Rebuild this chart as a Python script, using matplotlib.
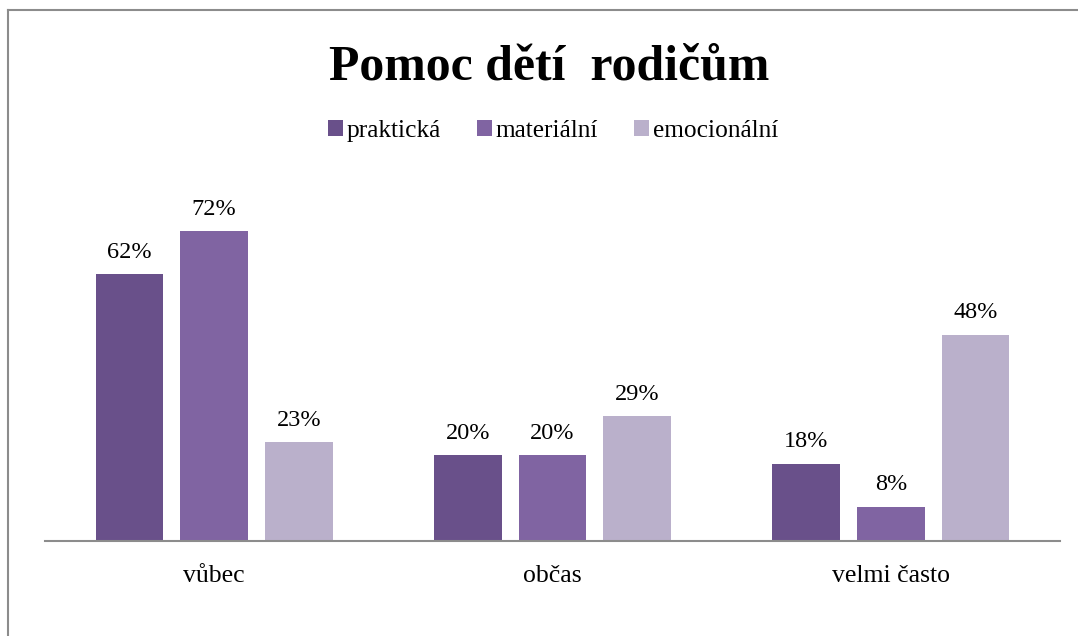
import matplotlib
matplotlib.use("Agg")
import matplotlib.pyplot as plt
import numpy as np
from matplotlib.lines import Line2D

categories = ["vůbec", "občas", "velmi často"]
series_names = ["praktická", "materiální", "emocionální"]
praktika = [62, 20, 18]
materialni = [72, 20, 8]
emocionalni = [23, 29, 48]
labels = ["62%", "20%", "18%"], ["72%", "20%", "8%"], ["23%", "29%", "48%"]
colors = ["#69508A", "#8064A2", "#BAB0CB"]

plt.rcParams['font.family'] = ['Liberation Serif', 'DejaVu Serif']

fig = plt.figure(figsize=(10.78, 6.36), dpi=100)
ax = fig.add_axes([45/1078, 1-541/636, (1060-45)/1078, 344/636])

x = np.arange(len(categories))
w = 0.2
step = 0.25
data = [praktika, materialni, emocionalni]
for i, (vals, name, col, labs) in enumerate(zip(data, series_names, colors, labels)):
    bars = ax.bar(x + (i-1)*step, vals, width=w, color=col, label=name, zorder=2)
    for b, lab in zip(bars, labs):
        ax.annotate(lab, (b.get_x()+b.get_width()/2, b.get_height()),
                    xytext=(0, 8), textcoords='offset points',
                    ha='center', va='bottom', fontsize=17.5)

ax.set_xlim(-0.5, 2.5)
ax.set_ylim(0, 80)
for s in ['top', 'right', 'left']:
    ax.spines[s].set_visible(False)
ax.spines['bottom'].set_color('#8C8C8C')
ax.spines['bottom'].set_linewidth(1.5)
ax.set_yticks([])
ax.set_xticks(x)
ax.set_xticklabels(categories, fontsize=18.5)
ax.tick_params(axis='x', length=0, pad=17)

fig.text(549/1078, 1-68/636, "Pomoc dětí  rodičům", ha='center', va='center',
         fontsize=35.8, fontweight='bold')

leg = fig.legend(loc='center', bbox_to_anchor=(553/1078, 1-131/636), ncol=3,
                 frameon=False, fontsize=18.3, handlelength=0.6, handleheight=0.6,
                 handletextpad=0.15, columnspacing=1.4)

# outer border (top and left visible)
fig.add_artist(Line2D([8/1078, 1], [1-10/636, 1-10/636], transform=fig.transFigure,
                      color='#8C8C8C', lw=1.5))
fig.add_artist(Line2D([8/1078, 8/1078], [0, 1-10/636], transform=fig.transFigure,
                      color='#8C8C8C', lw=1.5))

fig.savefig("out.png", dpi=100)
